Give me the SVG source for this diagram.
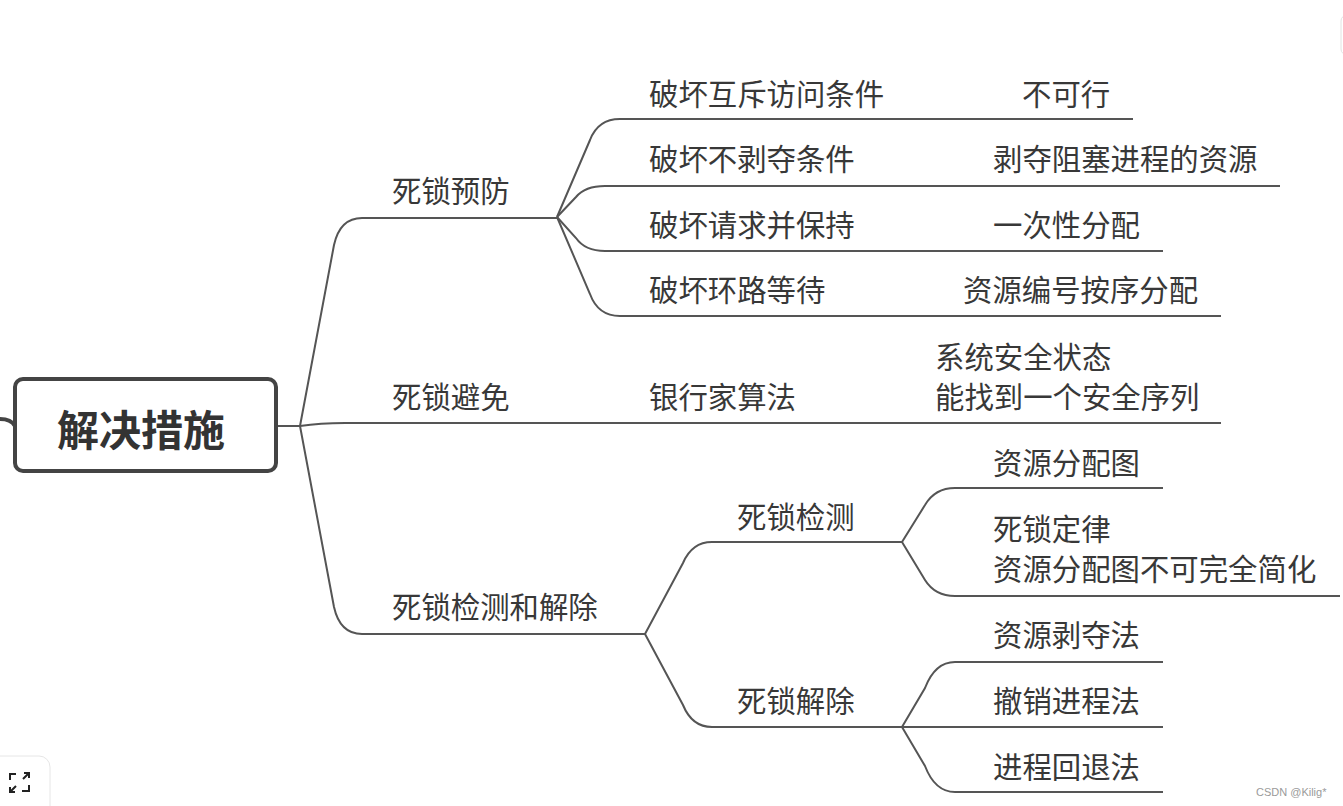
<svg xmlns="http://www.w3.org/2000/svg" width="1343" height="806" viewBox="0 0 1343 806">
<style>
.t{font-family:"Noto Sans CJK SC","Microsoft YaHei",sans-serif;font-size:29.4px;fill:#383838}
.root{font-family:"Noto Sans CJK SC",sans-serif;font-size:42px;font-weight:bold;fill:#333;text-anchor:middle}
.c{fill:none;stroke:#555;stroke-width:2}
.wm{font-family:"Liberation Sans",Arial,sans-serif;font-size:11px;fill:#9a9a9a}
</style>
<rect width="1343" height="806" fill="#fff"/>
<g id="connectors">
<path class="c" d="M0,419 Q11,419 15,426" style="stroke:#444;stroke-width:4"/>
<path class="c" d="M276,426 H300"/>
<path class="c" d="M300,426 L334,245 Q340,218 362,218 H557"/>
<path class="c" d="M300,426 Q320,423 345,423 H1221"/>
<path class="c" d="M300,426 L334,607 Q340,634 362,634 H645"/>
<path class="c" d="M557,217 L590,140 Q598,119 620,119 H1133"/>
<path class="c" d="M557,217 L576,197 Q585,186 605,186 H1280"/>
<path class="c" d="M557,217 L576,238 Q585,251 605,251 H1163"/>
<path class="c" d="M557,217 L590,294 Q598,316 620,316 H1221"/>
<path class="c" d="M645,634 L683,563 Q692,542 712,542 H902"/>
<path class="c" d="M645,634 L683,705 Q692,727 712,727 H902"/>
<path class="c" d="M902,542 L925,505 Q935,488 955,488 H1163"/>
<path class="c" d="M902,542 L925,580 Q935,596 955,596 H1340"/>
<path class="c" d="M902,727 L925,688 Q935,662 955,662 H1163"/>
<path class="c" d="M902,727 H1163"/>
<path class="c" d="M902,727 L925,766 Q935,792 955,792 H1163"/>
</g>
<g id="root">
<rect x="15" y="379" width="261" height="92" rx="8" fill="#fff" stroke="#444" stroke-width="4"/>
<text class="root" x="141" y="446">解决措施</text>
</g>
<g id="n-prevent"><text class="t" x="392" y="202">死锁预防</text></g>
<g id="n-avoid"><text class="t" x="392" y="408">死锁避免</text></g>
<g id="n-detect-remove"><text class="t" x="392" y="618">死锁检测和解除</text></g>
<g id="n-mutex"><text class="t" x="649" y="105">破坏互斥访问条件</text></g>
<g id="n-mutex-r"><text class="t" x="1022" y="105">不可行</text></g>
<g id="n-nopre"><text class="t" x="649" y="170">破坏不剥夺条件</text></g>
<g id="n-nopre-r"><text class="t" x="993" y="170">剥夺阻塞进程的资源</text></g>
<g id="n-hold"><text class="t" x="649" y="236">破坏请求并保持</text></g>
<g id="n-hold-r"><text class="t" x="993" y="236">一次性分配</text></g>
<g id="n-circ"><text class="t" x="649" y="301">破坏环路等待</text></g>
<g id="n-circ-r"><text class="t" x="963" y="301">资源编号按序分配</text></g>
<g id="n-banker"><text class="t" x="649" y="408">银行家算法</text></g>
<g id="n-banker-r"><text class="t" x="935" y="368">系统安全状态</text><text class="t" x="935" y="408">能找到一个安全序列</text></g>
<g id="n-detect"><text class="t" x="737" y="528">死锁检测</text></g>
<g id="n-remove"><text class="t" x="737" y="712">死锁解除</text></g>
<g id="n-rag"><text class="t" x="993" y="474">资源分配图</text></g>
<g id="n-law"><text class="t" x="993" y="540">死锁定律</text><text class="t" x="993" y="580">资源分配图不可完全简化</text></g>
<g id="n-preempt"><text class="t" x="993" y="646">资源剥夺法</text></g>
<g id="n-kill"><text class="t" x="993" y="712">撤销进程法</text></g>
<g id="n-rollback"><text class="t" x="993" y="778">进程回退法</text></g>
<g id="ui">
<rect x="-12" y="756" width="62" height="70" rx="11" fill="#fff" stroke="#e6e6e6" stroke-width="1"/>
<g fill="none" stroke="#222" stroke-width="2">
<path d="M10,780 V774 H16"/>
<path d="M22,791 H29 V785"/>
<path d="M23,779 L29,773 M24,773 H29 V778"/>
<path d="M16,786 L10,792 M10,787 V792 H15"/>
</g>
<rect x="1341" y="15" width="20" height="40" rx="6" fill="#fff" stroke="#e2e2e2"/>
<text class="wm" x="1256" y="796">CSDN @Kilig*</text>
</g>
</svg>
